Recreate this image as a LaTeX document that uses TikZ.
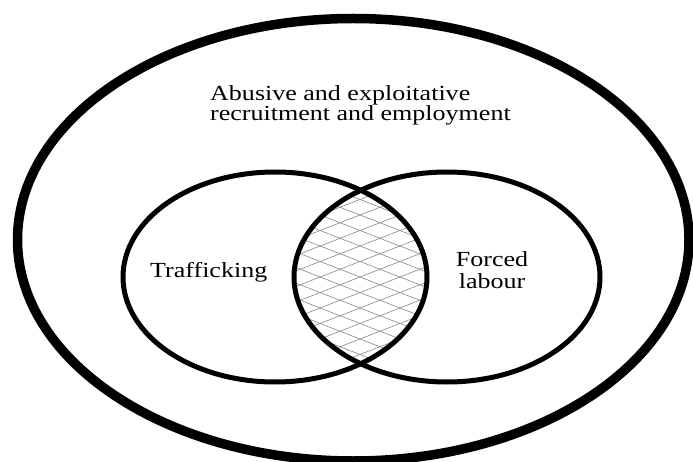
\documentclass[tikz,border=0pt]{standalone}
\usepackage{fontspec}
\newfontfamily\diagfont[FakeStretch=1.21]{Liberation Serif}
\begin{document}
\begin{tikzpicture}[x=1pt,y=-1pt,
  lbl/.style={font=\diagfont\fontsize{21.5}{21}\selectfont, inner sep=0pt, text=black},
  venn/.style={line width=5pt, draw=black},
  outer/.style={line width=9.5pt, draw=black},
  hatch/.style={line width=0.55pt, draw=black!50}]
\useasboundingbox (0,0) rectangle (693,462);
\clip (0,0) rectangle (693,462);
\fill[white] (0,0) rectangle (693,462);
% hatch in the intersection
\begin{scope}
  \clip (275,277) ellipse [x radius=152, y radius=105];
  \clip (447,277) ellipse [x radius=153, y radius=105];
  \foreach \k in {-14,...,14} {
    \draw[hatch] (270,{277+15.5*\k+35}) -- (450,{277+15.5*\k-35});
    \draw[hatch] (270,{277+15.5*\k-35}) -- (450,{277+15.5*\k+35});
  }
\end{scope}
% circles
\draw[venn] (275,277) ellipse [x radius=152, y radius=105];
\draw[venn] (447,277) ellipse [x radius=153, y radius=105];
\draw[outer] (353.25,239.75) ellipse [x radius=335.75, y radius=221.25];
% labels
\node[lbl, anchor=base west] (abuse1) at (210,101) {Abusive and exploitative};
\node[lbl, anchor=base west] (abuse2) at (210,121) {recruitment and employment};
\node[lbl, anchor=base west] (traf) at (150,277) {Trafficking};
\node[lbl, anchor=base] (forced) at (492,267) {Forced};
\node[lbl, anchor=base] (labour) at (492,288) {labour};
\end{tikzpicture}
\end{document}
